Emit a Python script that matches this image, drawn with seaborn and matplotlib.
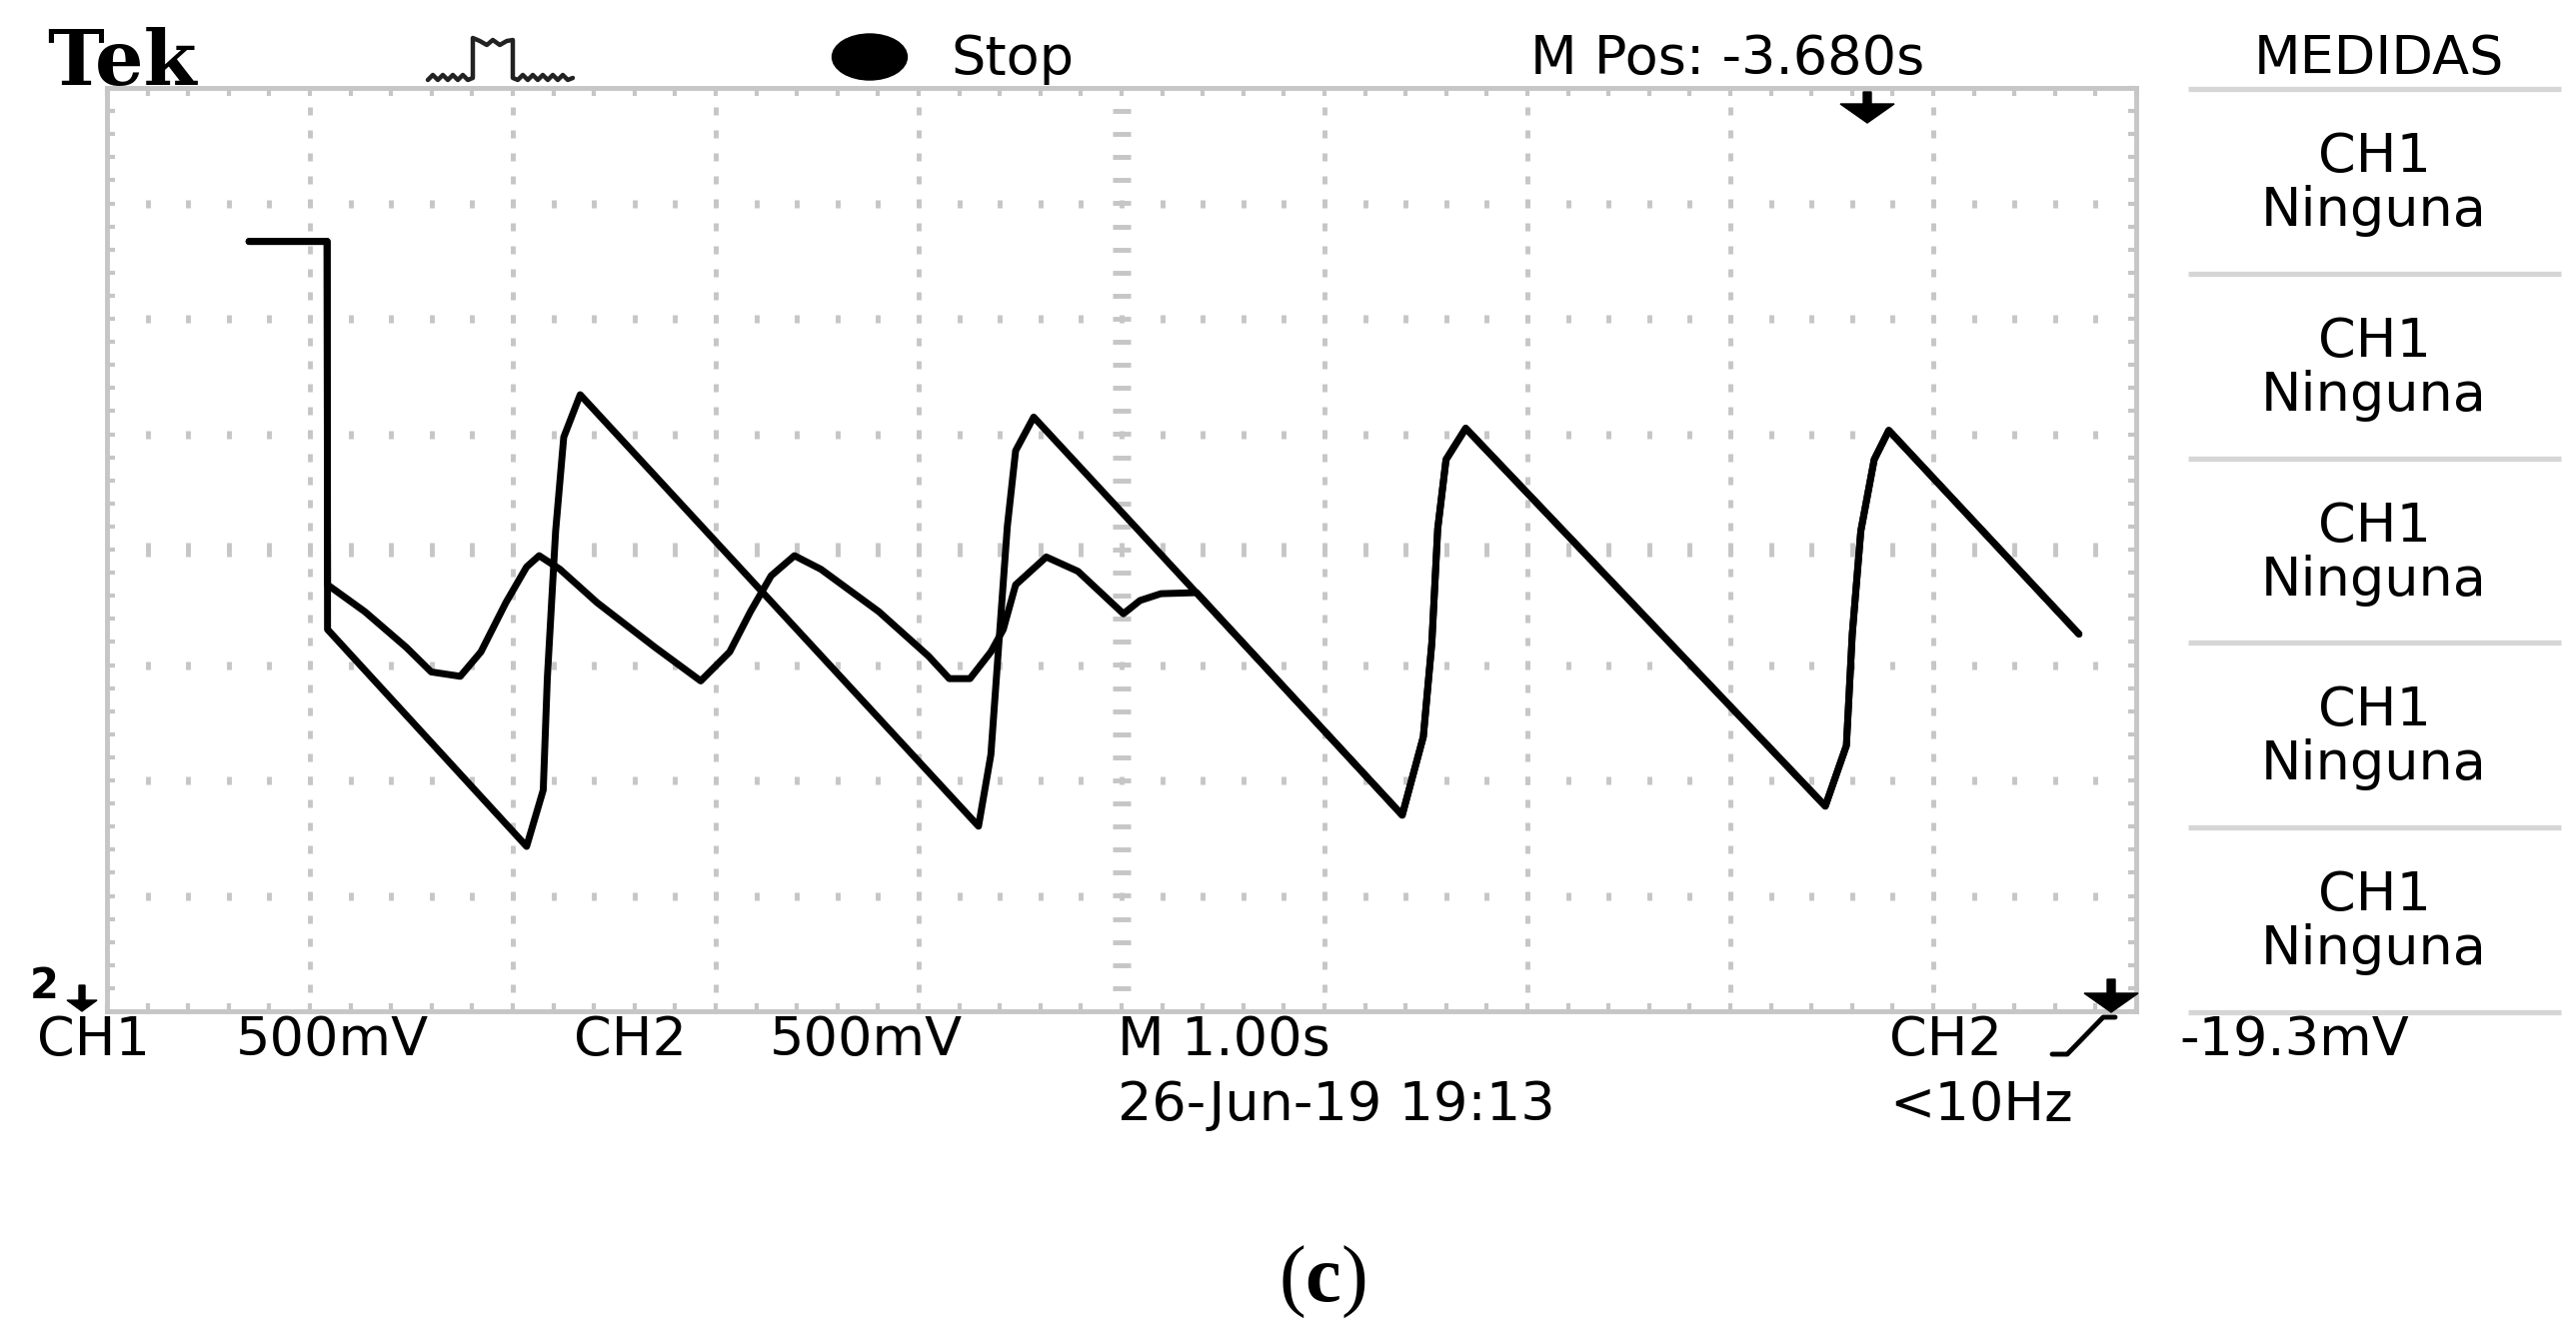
import numpy as np
import pandas as pd
import matplotlib
matplotlib.use("Agg")
import matplotlib.pyplot as plt
from matplotlib.lines import Line2D
from matplotlib.patches import Ellipse, Polygon
from matplotlib.transforms import IdentityTransform
from matplotlib.ticker import MultipleLocator
import seaborn as sns

# ---------------- data (screen divisions; 1 s/div, 500 mV/div) ----------------
time_ch2 = [0.70, 1.085, 1.087, 2.068, 2.150, 2.170, 2.211, 2.251, 2.332,
            4.295, 4.356, 4.397, 4.437, 4.478, 4.567,
            6.383, 6.487, 6.529, 6.558, 6.599, 6.696,
            8.468, 8.572, 8.601, 8.643, 8.709, 8.781, 9.718]
div_ch2 = [2.67, 2.67, -0.692, -2.572, -2.083, -1.118, 0.160, 0.974, 1.342,
           -2.397, -1.777, -0.770, 0.200, 0.857, 1.148,
           -2.301, -1.622, -0.809, 0.180, 0.780, 1.051,
           -2.223, -1.698, -0.732, 0.160, 0.780, 1.033, -0.732]

time_ch1_head = [0.70, 1.085, 1.087, 1.271, 1.475, 1.598, 1.741, 1.843, 1.966,
                 2.068, 2.130, 2.232, 2.415, 2.701, 2.926, 3.069, 3.171, 3.273,
                 3.388, 3.518, 3.804, 4.049, 4.151, 4.253, 4.356, 4.417, 4.478,
                 4.629, 4.785, 5.009, 5.091, 5.194, 5.370]
div_ch1_head = [2.67, 2.67, -0.305, -0.538, -0.847, -1.060, -1.098, -0.886, -0.459,
                -0.150, -0.053, -0.170, -0.459, -0.847, -1.138, -0.886, -0.538, -0.227,
                -0.053, -0.170, -0.538, -0.924, -1.118, -1.118, -0.886, -0.692, -0.305,
                -0.064, -0.188, -0.556, -0.441, -0.382, -0.373]

# after ~5.37 div the two traces coincide
merge_t = 5.37
time_ch1 = time_ch1_head + [t for t in time_ch2 if t > merge_t]
div_ch1 = div_ch1_head + [v for t, v in zip(time_ch2, div_ch2) if t > merge_t]

df = pd.concat([
    pd.DataFrame({"t": time_ch1, "div": div_ch1, "canal": "CH1"}),
    pd.DataFrame({"t": time_ch2, "div": div_ch2, "canal": "CH2"}),
], ignore_index=True)

# ---------------- style ----------------
sns.set_style("white")
plt.rcParams['font.family'] = ['DejaVu Sans']
plt.rcParams['mathtext.fontset'] = 'custom'
plt.rcParams['mathtext.rm'] = 'Liberation Serif'
plt.rcParams['mathtext.bf'] = 'Liberation Serif:bold'

W, H = 2577, 1332
fig = plt.figure(figsize=(W / 100, H / 100), dpi=100)
fig.patch.set_facecolor('white')

L, R, T, B = 107, 2137, 88, 1012
ax = fig.add_axes([L / W, 1 - B / H, (R - L) / W, (B - T) / H])
ax.set_facecolor('white')

grid_col = '#c6c6c6'

sns.lineplot(data=df, x="t", y="div", hue="canal",
             palette={"CH1": "black", "CH2": "black"},
             estimator=None, sort=False, legend=False,
             linewidth=5.0, ax=ax, zorder=5)
for ln in ax.lines:
    ln.set_solid_joinstyle('round')
    ln.set_solid_capstyle('round')

ax.set_xlim(0, 10)
ax.set_ylim(-4, 4)
ax.set_xlabel("")
ax.set_ylabel("")

# graticule
xs_minor = np.arange(0, 10.001, 0.2)[1:-1]
ys_minor = np.arange(-4, 4.001, 0.2)[1:-1]
for gx in range(1, 10):
    if gx == 5:
        continue
    ax.plot(np.full(len(ys_minor), gx), ys_minor, ls='none', marker='|',
            ms=6, mew=3.5, color=grid_col, zorder=1)
for gy in range(-3, 4):
    if gy == 0:
        continue
    ax.plot(xs_minor, np.full(len(xs_minor), gy), ls='none', marker='|',
            ms=6, mew=3.5, color=grid_col, zorder=1)
ax.plot(np.full(len(ys_minor), 5), ys_minor, ls='none', marker='_',
        ms=13, mew=3.5, color=grid_col, zorder=1)
ax.plot(xs_minor, np.zeros(len(xs_minor)), ls='none', marker='|',
        ms=10, mew=3.5, color=grid_col, zorder=1)

ax.xaxis.set_major_locator(MultipleLocator(1))
ax.xaxis.set_minor_locator(MultipleLocator(0.2))
ax.yaxis.set_major_locator(MultipleLocator(1))
ax.yaxis.set_minor_locator(MultipleLocator(0.2))
ax.tick_params(which='both', direction='in', length=6, width=3, color=grid_col,
               top=True, right=True, bottom=True, left=True,
               labelbottom=False, labelleft=False)
for s in ax.spines.values():
    s.set_color(grid_col)
    s.set_linewidth(3.5)
    s.set_visible(True)


# ---------------- annotations ----------------
def txt(x, y, s, ha='center', size=39, **kw):
    fig.text(x / W, 1 - y / H, s, ha=ha, va='baseline', fontsize=size, color='black', **kw)


txt(122, 85, "Tek", size=55, family='DejaVu Serif', weight='bold')
txt(1013, 74, "Stop")
txt(1728, 74, "M Pos: -3.680s")
txt(2380, 74, "MEDIDAS")

# right panel
sep_x0, sep_x1 = 2189, 2562
box_h = (B - T) / 5
for k in range(6):
    yy = T + 1 + k * box_h
    fig.add_artist(Line2D([sep_x0, sep_x1], [H - yy, H - yy], transform=IdentityTransform(),
                          color='#d6d6d6', lw=3.8, solid_capstyle='butt'))
for k in range(5):
    top = T + 1 + k * box_h
    txt(2375, top + 83, "CH1")
    txt(2375, top + 137, "Ninguna")

# bottom rows
txt(93, 1056, "CH1")
txt(332, 1056, "500mV")
txt(630, 1056, "CH2")
txt(866, 1056, "500mV")
txt(1118, 1056, "M 1.00s", ha='left')
txt(1118, 1121, "26-Jun-19 19:13", ha='left')
txt(1890, 1056, "CH2", ha='left')
txt(2295, 1056, "-19.3mV")
txt(1890, 1121, "<10Hz", ha='left')

# ground marker "2"
txt(44, 999, "2", size=30, weight='bold')

# "(c)"
fig.text(1323 / W, 1 - 1283 / H, r"($\mathbf{c}$)", ha='center', va='center',
         fontsize=58, family='Liberation Serif', color='black')

# stop indicator
fig.add_artist(Ellipse((870, H - 57), 75, 46, transform=IdentityTransform(),
                       facecolor='black', edgecolor='black'))

# pulse icon
px = [428, 433, 438, 443, 448, 453, 458, 463, 468, 473, 473, 480, 487, 493, 500, 507, 513, 513,
      518, 523, 528, 533, 538, 543, 548, 553, 558, 563, 568, 573]
py = [80, 75, 80, 75, 80, 75, 80, 75, 80, 78, 38, 41, 45, 40, 45, 41, 40, 78,
      80, 75, 80, 75, 80, 75, 80, 75, 80, 75, 80, 78]
fig.add_artist(Line2D(px, [H - v for v in py], transform=IdentityTransform(),
                      color='#222222', lw=3.2, solid_joinstyle='round'))


# arrows (trigger position, trigger level, ground)
def arrow(xc, y_top, y_tip, half_w, head_h, stem_w=8):
    fig.add_artist(Polygon([[xc - stem_w / 2, H - y_top], [xc + stem_w / 2, H - y_top],
                            [xc + stem_w / 2, H - (y_tip - head_h)],
                            [xc + half_w, H - (y_tip - head_h)], [xc, H - y_tip],
                            [xc - half_w, H - (y_tip - head_h)],
                            [xc - stem_w / 2, H - (y_tip - head_h)]],
                           closed=True, transform=IdentityTransform(),
                           facecolor='black', edgecolor='black', lw=1))


arrow(1868, 92, 123, 27, 19)
arrow(2112, 980, 1013, 27, 19)
arrow(82, 986, 1012, 15, 11, stem_w=6)

# trigger slope symbol
fig.add_artist(Line2D([2053, 2068, 2104, 2116], [H - 1055, H - 1055, H - 1018, H - 1018],
                      transform=IdentityTransform(), color='black', lw=3.5,
                      solid_joinstyle='round'))

fig.savefig("out.png", dpi=100, facecolor='white')
